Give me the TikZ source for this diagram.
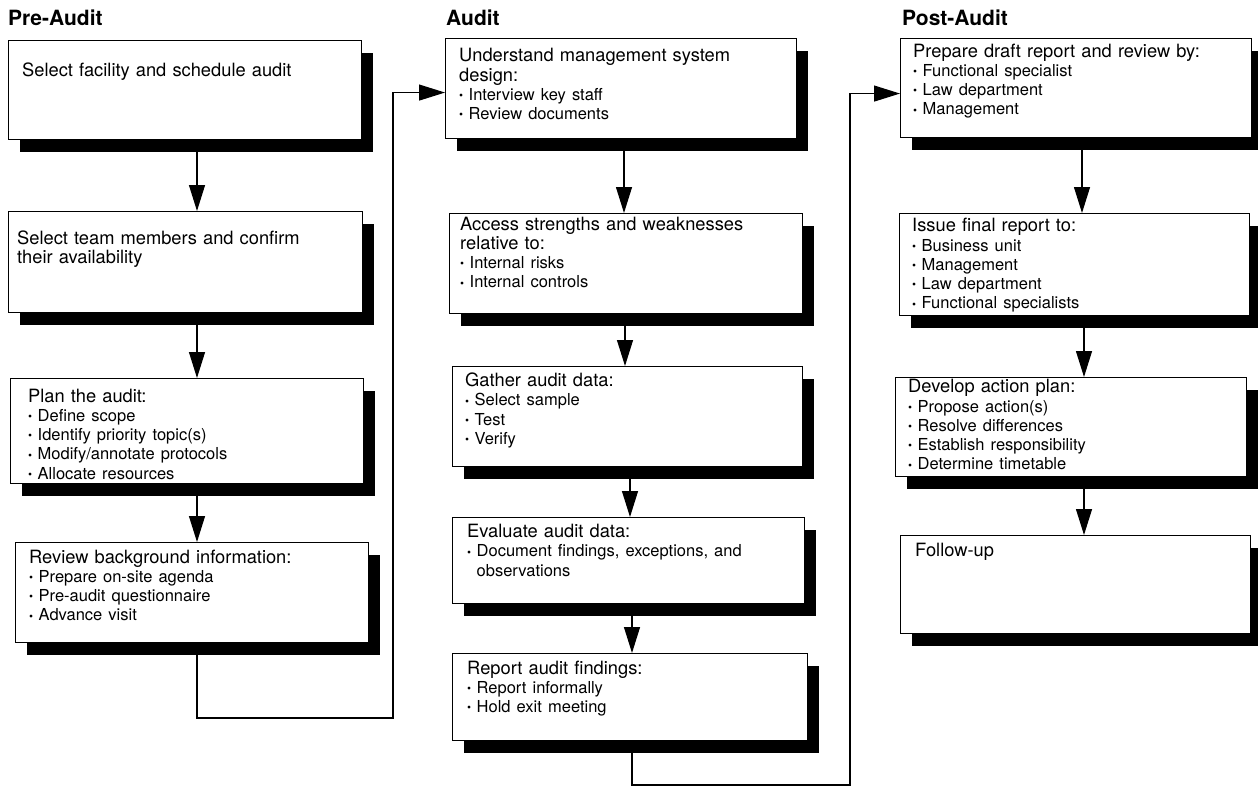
\documentclass[tikz,border=0pt]{standalone}
\usepackage{fontspec}
\setmainfont{TeX Gyre Heros}
\usetikzlibrary{arrows.meta,shadows}
\newcommand{\hdf}{\fontsize{18.3}{19.3}\selectfont}
\newcommand{\bsf}{\fontsize{16.5}{19.3}\selectfont}
\newcommand{\bul}{\makebox[9.5pt][l]{\fontsize{11.5}{11.5}\selectfont\raisebox{0.8pt}{\textbullet}}}
\newcommand{\itm}[1]{\\{\bsf\bul #1}}
\tikzset{
  box/.style={draw, line width=1.1pt, fill=white, anchor=north west, inner sep=0pt,
    drop shadow={shadow xshift=11pt, shadow yshift=-12pt, fill=black, opacity=1}},
  txt/.style={anchor=base west, inner sep=0pt, align=left, text width=340pt, font=\hdf},
  ttl/.style={anchor=base west, inner sep=0pt, font=\fontsize{21}{24}\selectfont\bfseries},
  arr/.style={line width=1.2pt, -{Triangle[length=26pt,width=16pt]}},
}
\begin{document}
\begin{tikzpicture}[x=1pt,y=-1pt]
\useasboundingbox (0,0) rectangle (1258,787);
% titles
\node[ttl] (h1) at (8,25) {Pre-Audit};
\node[ttl] (h2) at (446,25) {Audit};
\node[ttl] (h3) at (902,25) {Post-Audit};
% Pre-Audit boxes
\node[box, minimum width=353pt, minimum height=99pt] (b1) at (8,40) {};
\node[box, minimum width=354pt, minimum height=101pt] (b2) at (8,211) {};
\node[box, minimum width=353pt, minimum height=105pt] (b3) at (10,378) {};
\node[box, minimum width=353pt, minimum height=100pt] (b4) at (15,542) {};
% Audit boxes
\node[box, minimum width=351pt, minimum height=100pt] (a1) at (445,38) {};
\node[box, minimum width=353pt, minimum height=100pt] (a2) at (449,213) {};
\node[box, minimum width=350pt, minimum height=100pt] (a3) at (452,366) {};
\node[box, minimum width=352pt, minimum height=86pt] (a4) at (452,517) {};
\node[box, minimum width=355pt, minimum height=87pt] (a5) at (452,653) {};
% Post-Audit boxes
\node[box, minimum width=351pt, minimum height=99pt] (p1) at (900,38) {};
\node[box, minimum width=350pt, minimum height=102pt] (p2) at (899,213) {};
\node[box, minimum width=351pt, minimum height=99pt] (p3) at (895,377) {};
\node[box, minimum width=350pt, minimum height=98pt] (p4) at (900,535) {};
% texts
\node[txt] (tb1) at (22,76) {Select facility and schedule audit};
\node[txt] (tb2) at (17,244) {Select team members and confirm\\their availability};
\node[txt] (tb3) at (28,402) {Plan the audit:\itm{Define scope}\itm{Identify priority topic(s)}\itm{Modify/annotate protocols}\itm{Allocate resources}};
\node[txt] (tb4) at (29,563) {Review background information:\itm{Prepare on-site agenda}\itm{Pre-audit questionnaire}\itm{Advance visit}};
\node[txt] (ta1) at (459,61.7) {Understand management system\\design:\itm{Interview key staff}\itm{Review documents}};
\node[txt] (ta2) at (460,230) {Access strengths and weaknesses\\relative to:\itm{Internal risks}\itm{Internal controls}};
\node[txt] (ta3) at (465,386.5) {Gather audit data:\itm{Select sample}\itm{Test}\itm{Verify}};
\node[txt] (ta4) at (467,537.5) {Evaluate audit data:\itm{Document findings, exceptions, and}\\{\bsf\hspace*{9.5pt}observations}};
\node[txt] (ta5) at (467,674) {Report audit findings:\itm{Report informally}\itm{Hold exit meeting}};
\node[txt] (tp1) at (913,57) {Prepare draft report and review by:\itm{Functional specialist}\itm{Law department}\itm{Management}};
\node[txt] (tp2) at (912,231.7) {Issue final report to:\itm{Business unit}\itm{Management}\itm{Law department}\itm{Functional specialists}};
\node[txt] (tp3) at (908,392.7) {Develop action plan:\itm{Propose action(s)}\itm{Resolve differences}\itm{Establish responsibility}\itm{Determine timetable}};
\node[txt] (tp4) at (915,556.7) {Follow-up};
% connector columns
\coordinate (xa) at (197,0);
\coordinate (xb1) at (624,0);
\coordinate (xb2) at (625,0);
\coordinate (xb3) at (630,0);
\coordinate (xb4) at (632,0);
\coordinate (xc1) at (1082,0);
\coordinate (xc2) at (1084,0);
\coordinate (k1) at (393,718);
\coordinate (k2) at (850,785);
% connectors
\draw[arr] (b1.south -| xa) -- (b2.north -| xa);
\draw[arr] (b2.south -| xa) -- (b3.north -| xa);
\draw[arr] (b3.south -| xa) -- (b4.north -| xa);
\draw[arr] (b4.south -| xa) |- (k1) |- ([yshift=-4pt]a1.west);
\draw[arr] (a1.south -| xb1) -- (a2.north -| xb1);
\draw[arr] (a2.south -| xb2) -- (a3.north -| xb2);
\draw[arr] (a3.south -| xb3) -- (a4.north -| xb3);
\draw[arr] (a4.south -| xb4) -- (a5.north -| xb4);
\draw[arr] (a5.south -| xb4) |- (k2) |- ([yshift=-5.5pt]p1.west);
\draw[arr] (p1.south -| xc1) -- (p2.north -| xc1);
\draw[arr] (p2.south -| xc2) -- (p3.north -| xc2);
\draw[arr] (p3.south -| xc2) -- (p4.north -| xc2);
\end{tikzpicture}
\end{document}
